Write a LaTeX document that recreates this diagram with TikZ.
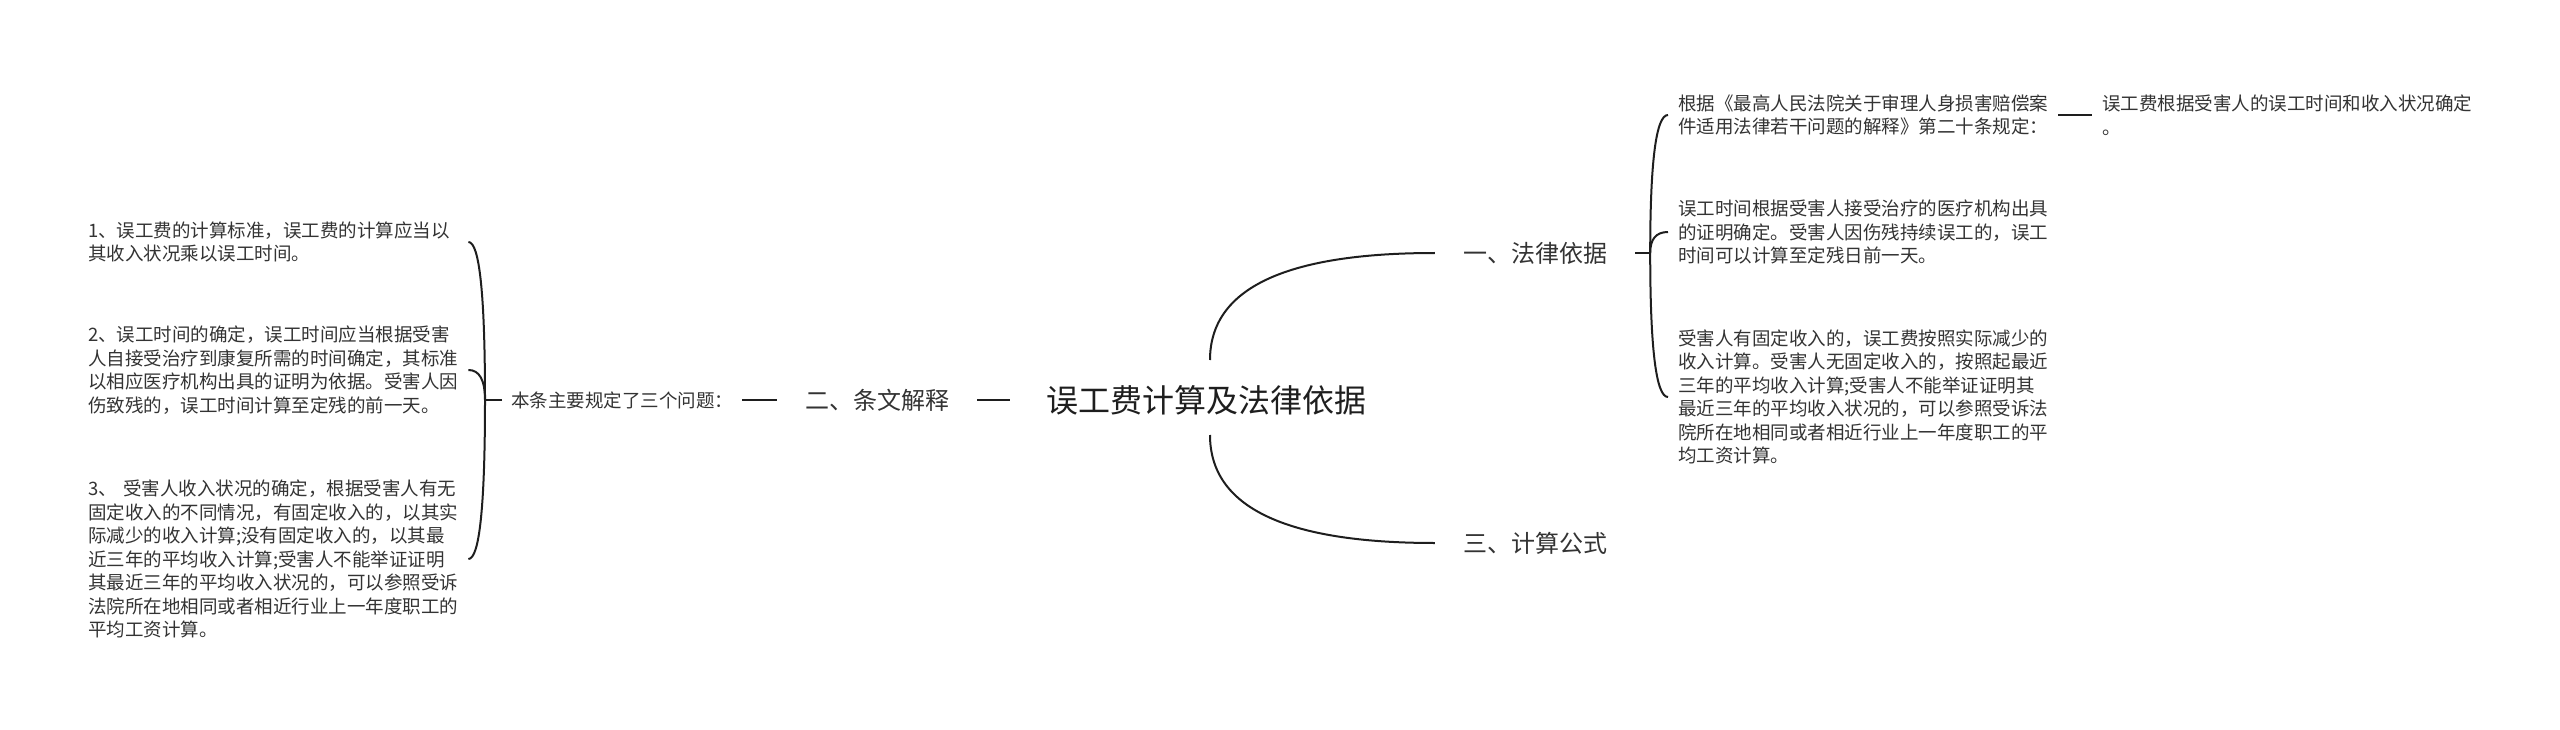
\documentclass[tikz,border=0pt]{standalone}
\usepackage{fontspec}
\usetikzlibrary{calc}
\setmainfont{Noto Sans CJK SC}
\definecolor{InkDark}{HTML}{1E1E1E}
\definecolor{InkText}{HTML}{333333}

\begin{document}
\begin{tikzpicture}[x=1pt,y=-1pt,
    every node/.style={text=InkText},
    leaf/.style={anchor=west, align=left, text width=370pt, inner xsep=10pt, inner ysep=2pt, font=\fontsize{18.5}{23.5}\selectfont},
    branch/.style={inner xsep=28pt, font=\fontsize{24}{28}\selectfont},
    link/.style={draw=InkDark, line width=2pt}]
  \useasboundingbox (0,0) rectangle (2560,730);
  % centre and main branches
  \node[inner xsep=36pt, text=InkDark, font=\fontsize{32}{36}\selectfont] (root) at (1206,400) {误工费计算及法律依据};
  \node[branch] (law) at (1535,253) {一、法律依据};
  \node[branch] (formula) at (1535,543) {三、计算公式};
  \node[branch] (notes) at (877,400) {二、条文解释};
  \node[anchor=west, inner xsep=9pt, font=\fontsize{18.5}{23.5}\selectfont] (issues) at (502,400) {本条主要规定了三个问题：};
  \coordinate (rootN) at (1210,360);
  \coordinate (rootS) at (1210,435);
  \draw[link] (rootN) .. controls ($(rootN)!0.667!(rootN |- law.west)$) and ($(law.west)!0.667!(rootN |- law.west)$) .. (law.west);
  \draw[link] (rootS) .. controls ($(rootS)!0.667!(rootS |- formula.west)$) and ($(formula.west)!0.667!(rootS |- formula.west)$) .. (formula.west);
  \draw[link] (root.west) -- (notes.east);
  \draw[link] (notes.west) -- (issues.east);
  % left side
  \node[leaf] (issueA) at (78,242) {1、误工费的计算标准，误工费的计算应当以\\其收入状况乘以误工时间。};
  \node[leaf] (issueB) at (78,370) {2、误工时间的确定，误工时间应当根据受害\\人自接受治疗到康复所需的时间确定，其标准\\以相应医疗机构出具的证明为依据。受害人因\\伤致残的，误工时间计算至定残的前一天。};
  \node[leaf] (issueC) at (78,559) {3、 受害人收入状况的确定，根据受害人有无\\固定收入的不同情况，有固定收入的，以其实\\际减少的收入计算;没有固定收入的，以其最\\近三年的平均收入计算;受害人不能举证证明\\其最近三年的平均收入状况的，可以参照受诉\\法院所在地相同或者相近行业上一年度职工的\\平均工资计算。};
  \coordinate (issuefork) at ([xshift=-17pt]issues.west);
  \draw[link] (issues.west) -- (issuefork);
  \foreach \leafname in {issueA,issueB,issueC}
    \draw[link] (issuefork) .. controls ($(issuefork)!0.667!(issuefork |- \leafname.east)$) and ($(\leafname.east)!0.667!(issuefork |- \leafname.east)$) .. (\leafname.east);
  % right side
  \node[leaf] (lawA) at (1668,115) {根据《最高人民法院关于审理人身损害赔偿案\\件适用法律若干问题的解释》第二十条规定：};
  \node[leaf] (lawAA) at (2092,115) {误工费根据受害人的误工时间和收入状况确定\\。};
  \node[leaf] (lawB) at (1668,232) {误工时间根据受害人接受治疗的医疗机构出具\\的证明确定。受害人因伤残持续误工的，误工\\时间可以计算至定残日前一天。};
  \node[leaf] (lawC) at (1668,397) {受害人有固定收入的，误工费按照实际减少的\\收入计算。受害人无固定收入的，按照起最近\\三年的平均收入计算;受害人不能举证证明其\\最近三年的平均收入状况的，可以参照受诉法\\院所在地相同或者相近行业上一年度职工的平\\均工资计算。};
  \coordinate (lawfork) at ([xshift=15pt]law.east);
  \draw[link] (law.east) -- (lawfork);
  \foreach \leafname in {lawA,lawB,lawC}
    \draw[link] (lawfork) .. controls ($(lawfork)!0.667!(lawfork |- \leafname.west)$) and ($(\leafname.west)!0.667!(lawfork |- \leafname.west)$) .. (\leafname.west);
  \draw[link] (lawA.east) -- (lawAA.west);
\end{tikzpicture}
\end{document}
